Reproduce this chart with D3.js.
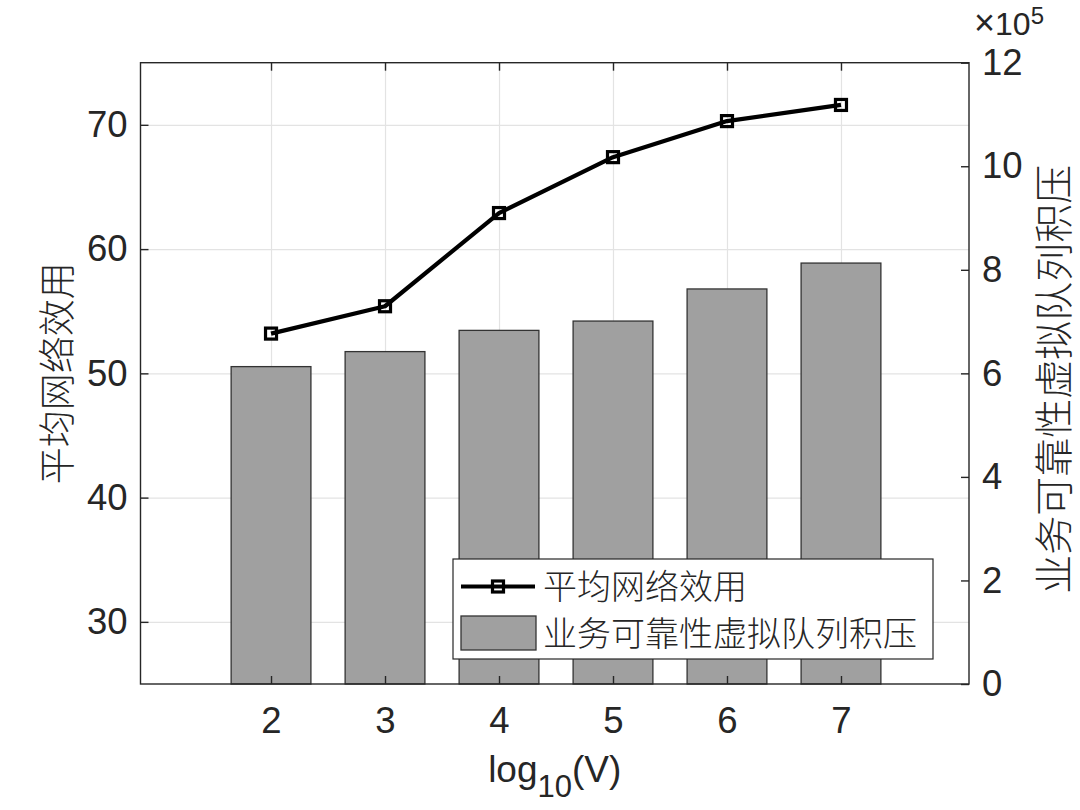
<!DOCTYPE html>
<html>
<head>
<meta charset="utf-8">
<script src="https://cdn.jsdelivr.net/npm/d3@7"></script>
<style>
  html, body { margin: 0; padding: 0; background: #fff; }
  svg { display: block; }
  .num { font-family: "Liberation Sans", Arial, Helvetica, sans-serif; fill: #262626; }
  .cjk { font-family: "Noto Sans CJK SC", "Noto Sans", sans-serif; fill: #262626; }
</style>
</head>
<body>
<svg id="chart" width="1080" height="810"></svg>
<script>
// ---- data ----
const categories = [2, 3, 4, 5, 6, 7];
const utility = [53.2, 55.4, 62.9, 67.4, 70.3, 71.6];          // 平均网络效用 (left axis)
const backlog = [613000, 642000, 683000, 701000, 763000, 813000]; // 业务可靠性虚拟队列积压 (right axis)
const xTicks = [2, 3, 4, 5, 6, 7];
const yLeftTicks = [30, 40, 50, 60, 70];
const yRightTicks = [0, 200000, 400000, 600000, 800000, 1000000, 1200000];
const seriesNames = ["平均网络效用", "业务可靠性虚拟队列积压"];
const xLabel = "log";
const yLeftLabel = "平均网络效用";
const yRightLabel = "业务可靠性虚拟队列积压";

// ---- layout ----
const L = 140.5, R = 969, T = 62.7, B = 684;
const svg = d3.select("#chart");
const axisColor = "#262626";

const x = d3.scaleLinear().domain([0.855, 8.123]).range([L, R]);
const yL = d3.scaleLinear().domain([25, 75]).range([B, T]);
const yR = d3.scaleLinear().domain([0, 1200000]).range([B, T]);

// grid
const grid = svg.append("g").attr("class", "grid");
grid.append("g").attr("transform", `translate(0,${B})`)
  .call(d3.axisBottom(x).tickValues(xTicks).tickSize(-(B - T)).tickFormat(""))
  .call(g => g.select(".domain").remove())
  .call(g => g.selectAll("line").attr("stroke", "#e3e3e3").attr("stroke-width", 1.2));
grid.append("g").attr("transform", `translate(${L},0)`)
  .call(d3.axisLeft(yL).tickValues(yLeftTicks).tickSize(-(R - L)).tickFormat(""))
  .call(g => g.select(".domain").remove())
  .call(g => g.selectAll("line").attr("stroke", "#e3e3e3").attr("stroke-width", 1.2));

// bars
const barW = x(0.7) - x(0);
svg.append("g").selectAll("rect").data(categories).join("rect")
  .attr("x", (d) => x(d) - barW / 2)
  .attr("width", barW)
  .attr("y", (d, i) => yR(backlog[i]))
  .attr("height", (d, i) => B - yR(backlog[i]))
  .attr("fill", "#a0a0a0")
  .attr("stroke", "#333333")
  .attr("stroke-width", 1.3);

// line
const pts = categories.map((c, i) => [x(c), yL(utility[i])]);
svg.append("path")
  .attr("d", d3.line()(pts))
  .attr("fill", "none").attr("stroke", "#000").attr("stroke-width", 4.2)
  .attr("stroke-linejoin", "round");
const ms = 11;
svg.append("g").selectAll("rect").data(pts).join("rect")
  .attr("x", d => d[0] - ms / 2).attr("y", d => d[1] - ms / 2)
  .attr("width", ms).attr("height", ms)
  .attr("fill", "none").attr("stroke", "#000").attr("stroke-width", 3.2);

// axes
const fs = 36.5;
function styleAxis(g) {
  g.select(".domain").remove();
  g.selectAll("line").attr("stroke", axisColor).attr("stroke-width", 1.4);
  g.selectAll("text").attr("class", "num").attr("font-size", fs).attr("fill", axisColor);
}
svg.append("g").attr("transform", `translate(0,${B})`)
  .call(d3.axisBottom(x).tickValues(xTicks).tickSize(-8).tickPadding(23).tickFormat(d3.format("d")))
  .call(styleAxis);
svg.append("g").attr("transform", `translate(0,${T})`)
  .call(d3.axisTop(x).tickValues(xTicks).tickSize(-8).tickFormat(""))
  .call(styleAxis);
svg.append("g").attr("transform", `translate(${L},0)`)
  .call(d3.axisLeft(yL).tickValues(yLeftTicks).tickSize(-8).tickPadding(13).tickFormat(d3.format("d")))
  .call(styleAxis);
svg.append("g").attr("transform", `translate(${R},0)`)
  .call(d3.axisRight(yR).tickValues(yRightTicks).tickSize(-8).tickPadding(13).tickFormat(d => d / 100000))
  .call(styleAxis);

// box
svg.append("rect").attr("x", L).attr("y", T).attr("width", R - L).attr("height", B - T)
  .attr("fill", "none").attr("stroke", axisColor).attr("stroke-width", 1.4);

// exponent label
const ex = svg.append("text").attr("class", "num").attr("x", 974).attr("y", 35).attr("font-size", 32);
ex.append("tspan").attr("font-size", 36).text("×");
ex.append("tspan").text("10");
ex.append("tspan").attr("font-size", 24).attr("dy", -11).text("5");

// x label
const xl = svg.append("text").attr("class", "num").attr("x", (L + R) / 2).attr("y", 782)
  .attr("text-anchor", "middle").attr("font-size", 37);
xl.append("tspan").text(xLabel);
xl.append("tspan").attr("font-size", 31).attr("dy", 15).text("10");
xl.append("tspan").attr("dy", -15).text("(V)");

// y labels
svg.append("text").attr("class", "cjk").attr("font-size", 37).attr("font-weight", 300)
  .attr("text-anchor", "middle").attr("transform", `translate(71,${(T + B) / 2}) rotate(-90)`)
  .text(yLeftLabel);
svg.append("text").attr("class", "cjk").attr("font-size", 39).attr("font-weight", 300)
  .attr("text-anchor", "middle").attr("transform", `translate(1068,${(T + B) / 2 + 6}) rotate(-90)`)
  .text(yRightLabel);

// legend
const lg = svg.append("g");
lg.append("rect").attr("x", 453).attr("y", 559).attr("width", 480).attr("height", 100)
  .attr("fill", "#fff").attr("stroke", "#262626").attr("stroke-width", 1.2);
lg.append("line").attr("x1", 461).attr("x2", 535).attr("y1", 586.5).attr("y2", 586.5)
  .attr("stroke", "#000").attr("stroke-width", 4.2);
lg.append("rect").attr("x", 498 - ms / 2).attr("y", 586.5 - ms / 2).attr("width", ms).attr("height", ms)
  .attr("fill", "none").attr("stroke", "#000").attr("stroke-width", 3.2);
lg.append("rect").attr("x", 461).attr("y", 616).attr("width", 75).attr("height", 34)
  .attr("fill", "#a0a0a0").attr("stroke", "#333").attr("stroke-width", 1.3);
lg.selectAll("text.lt").data(seriesNames).join("text")
  .attr("class", "cjk").attr("x", 543).attr("y", (d, i) => 587 + i * 47)
  .attr("dy", "0.36em").attr("font-size", 34).attr("font-weight", 300)
  .text(d => d);
</script>
</body>
</html>
